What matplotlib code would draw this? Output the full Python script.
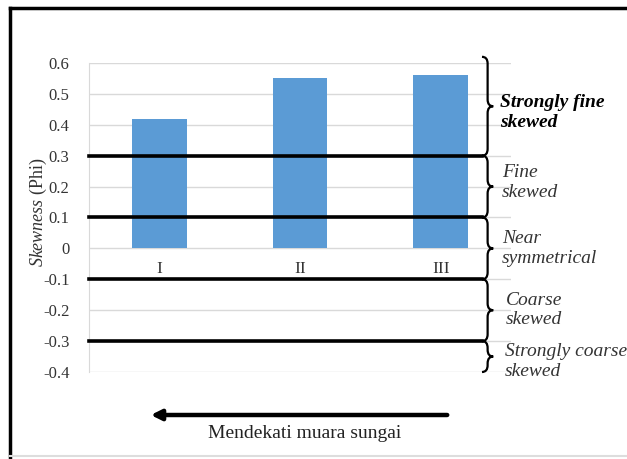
import matplotlib.pyplot as plt
from matplotlib.path import Path
from matplotlib.patches import PathPatch
from matplotlib.lines import Line2D

# --- datos ---
categorias = ['I', 'II', 'III']
skewness = [0.42, 0.55, 0.56]
limites = [0.3, 0.1, -0.1, -0.3]
rangos = [(0.3, 0.62), (0.1, 0.3), (-0.1, 0.1), (-0.3, -0.1), (-0.4, -0.3)]
etiquetas = ['Strongly fine\nskewed', 'Fine\nskewed', 'Near\nsymmetrical',
             'Coarse\nskewed', 'Strongly coarse\nskewed']
ticks_y = [0.6, 0.5, 0.4, 0.3, 0.2, 0.1, 0, -0.1, -0.2, -0.3, -0.4]

plt.rcParams['font.family'] = 'Liberation Serif'
plt.rcParams['mathtext.fontset'] = 'custom'
plt.rcParams['mathtext.it'] = 'Liberation Serif:italic'
plt.rcParams['mathtext.rm'] = 'Liberation Serif'

fig = plt.figure(figsize=(6.27, 4.59), dpi=100)
W, H = 627, 459
ax = fig.add_axes([89 / W, 1 - 372 / H, 422 / W, 309 / H])

x = [i + 0.5 for i in range(len(categorias))]
ax.bar(x, skewness, width=0.39, color='#5B9BD5', zorder=2)
ax.set_xlim(0, 3)
ax.set_ylim(-0.4, 0.6)
ax.set_yticks(ticks_y)
ax.set_yticklabels([f'{t:g}' for t in ticks_y], fontsize=12, color='#333333')
ax.tick_params(axis='y', length=0, pad=14)
ax.set_xticks([])
for t in ticks_y:
    ax.axhline(t, color='#D9D9D9', lw=1, zorder=1)
for s in ['top', 'right', 'bottom']:
    ax.spines[s].set_visible(False)
ax.spines['left'].set_color('#D9D9D9')

for xi, c in zip(x, categorias):
    ax.text(xi, -0.068, c, ha='center', va='center', fontsize=12.5, color='#333333')

# lineas negras de limites hasta la llave
x_llave = (482 - 89) / 140.67
for lim in limites:
    ax.add_line(Line2D([0, x_llave], [lim, lim], color='black', lw=2.6,
                       clip_on=False, zorder=3))


def llave(x0, y0, y1, w=0.08, h=0.022):
    ym = (y0 + y1) / 2
    xc = x0 + w / 2
    verts = [(x0, y1), (xc, y1), (xc, y1 - h), (xc, ym + h), (xc, ym), (x0 + w, ym),
             (xc, ym), (xc, ym - h), (xc, y0 + h), (xc, y0), (x0, y0)]
    codes = [Path.MOVETO, Path.CURVE3, Path.CURVE3, Path.LINETO, Path.CURVE3, Path.CURVE3,
             Path.CURVE3, Path.CURVE3, Path.LINETO, Path.CURVE3, Path.CURVE3]
    ax.add_patch(PathPatch(Path(verts, codes), fill=False, lw=1.6, color='black',
                           clip_on=False, zorder=3))


for (y0, y1) in rangos:
    llave(x_llave, y0, y1)

x_txt = [500, 502, 502, 506, 505]
y_txt = [0.44, 0.214, 0.0, -0.2, -0.366]
for lab, xt, yt in zip(etiquetas, x_txt, y_txt):
    negrita = lab.startswith('Strongly fine')
    ax.text((xt - 89) / 140.67, yt, lab, ha='left', va='center', fontsize=14,
            style='italic', weight='bold' if negrita else 'normal',
            color='black' if negrita else '#333333',
            linespacing=1.2, clip_on=False)

fig.text(38 / W, 1 - 212 / H, r'$\mathit{Skewness}$ (Phi)', rotation=90,
         ha='center', va='center', fontsize=13, color='#333333')

# flecha
ax.annotate('', xy=(148 / W, 1 - 415 / H), xycoords='figure fraction',
            xytext=(450 / W, 1 - 415 / H), textcoords='figure fraction',
            arrowprops=dict(arrowstyle='-|>,head_length=0.6,head_width=0.3',
                            lw=3.2, color='black'))
fig.text(305 / W, 1 - 434 / H, 'Mendekati muara sungai', ha='center', va='center',
         fontsize=14, color='#222222')

# marco
fig.add_artist(Line2D([10 / W, 10 / W], [0, 1 - 8 / H], color='black', lw=2.5,
                      transform=fig.transFigure))
fig.add_artist(Line2D([10 / W, 1], [1 - 8 / H, 1 - 8 / H], color='black', lw=2.5,
                      transform=fig.transFigure))
fig.add_artist(Line2D([10 / W, 1], [1 - 456 / H, 1 - 456 / H], color='#DDDDDD', lw=1.5,
                      transform=fig.transFigure))

fig.savefig('out.png', dpi=100)
